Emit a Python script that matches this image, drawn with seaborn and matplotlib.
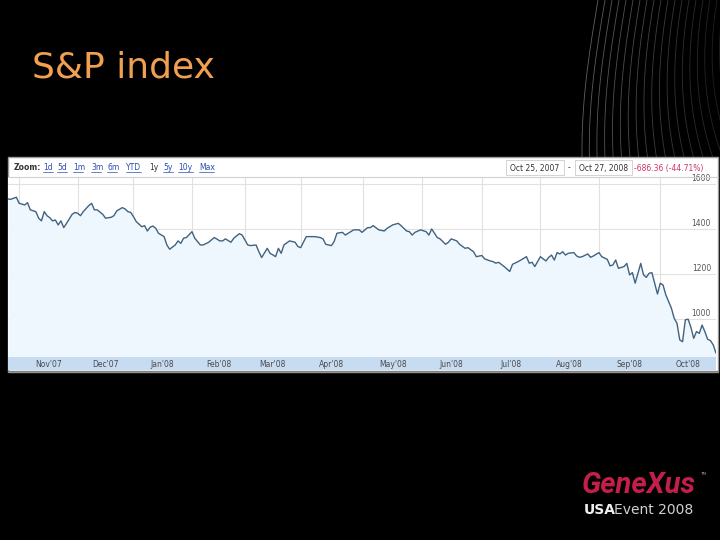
import numpy as np
import pandas as pd
import seaborn as sns
import matplotlib.pyplot as plt
from matplotlib.lines import Line2D
from matplotlib.patches import Rectangle

# S&P 500 closes, Oct 25 2007 - Oct 27 2008, x = trading day number
day = [0, 1, 3, 4, 6, 7, 8, 10, 11, 12, 13, 14, 15, 16, 17, 18, 19, 20, 21, 23,
       24, 25, 26, 27, 29, 30, 31, 32, 34, 35, 37, 38, 39, 41, 42, 43, 44, 45, 46, 48,
       49, 50, 51, 52, 53, 54, 56, 57, 58, 60, 61, 62, 63, 64,
       66, 67, 69, 70, 72, 74, 76, 77, 78, 80, 81, 83, 84, 86, 87, 89, 90, 91, 93, 94,
       95, 96, 97, 98, 99, 101, 103, 104, 105, 107, 108, 110, 112, 113, 114, 116, 117, 118, 120, 121,
       123, 124, 126, 127, 129,
       130, 131, 133, 135, 136, 138, 140, 141, 143, 144, 145, 146, 148, 150, 151, 152, 154, 155, 157, 158,
       159, 161, 162, 164, 165, 167, 168, 170, 171, 173, 174, 175, 176, 178, 180, 181, 183, 184, 186, 187,
       188, 189, 191, 192, 193,
       194, 195, 196, 197, 198, 199, 200, 201, 203, 204, 205, 206, 208, 209, 210, 212, 213, 215, 216, 217,
       218, 219, 221, 222, 223, 224, 225, 226, 227, 228, 229, 230, 231, 233, 234, 235, 236, 237, 238, 239,
       240, 241, 242, 243, 244, 245, 246, 247, 248, 249, 250, 251, 252, 253, 254]
close = [1533, 1532, 1541, 1514, 1507, 1517, 1485, 1477, 1448, 1436, 1477, 1459, 1450, 1436, 1440, 1418, 1436, 1406, 1425, 1465,
         1473, 1470, 1459, 1477, 1504, 1514, 1485, 1485, 1465, 1448, 1452, 1459, 1480, 1495, 1489, 1477, 1474, 1455, 1433, 1410,
         1415, 1391, 1408, 1413, 1403, 1381, 1366, 1329, 1310, 1329, 1347, 1336, 1359, 1362,
         1388, 1359, 1329, 1329, 1341, 1362, 1347, 1347, 1356, 1341, 1359, 1379, 1373, 1329, 1326, 1329, 1299, 1273, 1314, 1292,
         1285, 1277, 1314, 1292, 1329, 1347, 1341, 1322, 1317, 1366, 1366, 1366, 1362, 1356, 1332, 1326, 1344, 1381, 1385, 1373,
         1388, 1396, 1396, 1385, 1406,
         1406, 1415, 1396, 1391, 1403, 1418, 1425, 1415, 1391, 1388, 1373, 1385, 1396, 1388, 1373, 1400, 1362, 1356, 1332, 1341,
         1356, 1347, 1332, 1314, 1317, 1299, 1277, 1282, 1267, 1258, 1255, 1248, 1252, 1233, 1211, 1243, 1255, 1262, 1277, 1248,
         1252, 1233, 1277, 1267, 1258,
         1274, 1284, 1262, 1295, 1289, 1299, 1284, 1292, 1295, 1280, 1274, 1277, 1289, 1274, 1280, 1295, 1277, 1265, 1236, 1240,
         1262, 1225, 1233, 1247, 1196, 1206, 1159, 1203, 1247, 1196, 1185, 1203, 1206, 1111, 1159, 1151, 1107, 1077, 1048, 1003,
         981, 907, 899, 996, 999, 963, 914, 944, 936, 973, 944, 910, 904, 885, 848]

month_starts = [4, 25, 45, 66, 85, 105, 127.5, 148.6, 170, 191, 212, 234]
month_mid = [14.5, 35, 55.5, 75.5, 95, 116, 138, 159, 180.5, 201.5, 223, 244]
month_labels = ["Nov'07", "Dec'07", "Jan'08", "Feb'08", "Mar'08", "Apr'08",
                "May'08", "Jun'08", "Jul'08", "Aug'08", "Sep'08", "Oct'08"]
y_ticks = [1000, 1200, 1400, 1600]

zoom_links = ["1d", "5d", "1m", "3m", "6m", "YTD", "1y", "5y", "10y", "Max"]
zoom_x = [43, 57, 73, 91, 107, 126, 149, 163, 178, 199]

df = pd.DataFrame({"day": day, "close": close})

sns.set_style("white")
plt.rcParams['font.family'] = ['DejaVu Sans']

W, H = 720, 540
def fx(px):
    return px / W
def fy(py):
    return 1 - py / H

fig = plt.figure(figsize=(7.2, 5.4), dpi=100, facecolor='black')

# decorative arcs, top right
yy = np.linspace(0, 160, 80)
for k in range(20):
    x0 = 598 + k * 7
    xx = x0 - 16 * np.sin(np.pi * yy / 300) + (k ** 1.6) * 0.35 * (yy / 160) ** 2
    fig.add_artist(Line2D(fx(xx), fy(yy), color='#6a6a6a', lw=0.6,
                          alpha=max(0.25, 0.9 - k * 0.035), zorder=-3))

# panel
fig.add_artist(Rectangle((fx(8), fy(372)), fx(718) - fx(8), fy(157) - fy(372),
                         transform=fig.transFigure, facecolor='white', edgecolor='#9a9a9a',
                         lw=1, zorder=-2))

ax = fig.add_axes([fx(8), fy(357), fx(716) - fx(8), fy(177) - fy(357)])
ax.set_facecolor('white')
ax.fill_between(df["day"], df["close"], 800, color='#eef7fd', lw=0)
sns.lineplot(data=df, x="day", y="close", ax=ax, color='#41627f', lw=1)
ax.set_xlim(0, 254)
ax.set_ylim(831, 1631)
ax.set_yticks(y_ticks)
ax.set_yticklabels([])
ax.set_xticks(month_starts)
ax.set_xticklabels([])
ax.grid(True, color='#e1e1e1', lw=0.8)
ax.tick_params(axis='x', direction='in', length=4, color='#9a9a9a', width=0.8)
ax.tick_params(axis='y', length=0)
ax.set_xlabel("")
ax.set_ylabel("")
for s in ax.spines.values():
    s.set_visible(False)
for v in y_ticks:
    ax.text(0.993, v + 6, str(v), transform=ax.get_yaxis_transform(), ha='right', va='bottom',
            fontsize=5.5, color='#555555')

band = fig.add_axes([fx(8), fy(370), fx(716) - fx(8), fy(357) - fy(370)], sharex=ax)
band.set_facecolor('#c8dcf1')
band.set_yticks([])
band.tick_params(axis='x', length=0, labelbottom=False)
for s in band.spines.values():
    s.set_visible(False)
for m, lab in zip(month_mid, month_labels):
    band.text(m, 0.45, lab, ha='center', va='center', fontsize=5.5, color='#4a4a4a')
fig.add_artist(Line2D([fx(8), fx(718)], [fy(371), fy(371)], color='#7f7f7f', lw=1))
fig.add_artist(Line2D([fx(8), fx(718)], [fy(177), fy(177)], color='#cfcfcf', lw=0.8))

# header strip
fig.text(fx(14), fy(168), "Zoom:", fontsize=5.5, color='#333333', fontweight='bold', va='center')
for lab, x in zip(zoom_links, zoom_x):
    c = '#333333' if lab == "1y" else '#2a4fb0'
    fig.text(fx(x), fy(168), lab, fontsize=5.5, color=c, va='center')
    if lab != "1y":
        w = 4.2 * len(lab) + 2
        fig.add_artist(Line2D([fx(x), fx(x + w)], [fy(172), fy(172)], color=c, lw=0.5))

for x0, x1, txt in [(506, 564, "Oct 25, 2007"), (575, 632, "Oct 27, 2008")]:
    fig.add_artist(Rectangle((fx(x0), fy(175)), fx(x1) - fx(x0), fy(160) - fy(175),
                             transform=fig.transFigure, facecolor='white', edgecolor='#cccccc', lw=0.6))
    fig.text(fx((x0 + x1) / 2), fy(168), txt, fontsize=5.5, color='#333333', ha='center', va='center')
fig.text(fx(569), fy(168), "-", fontsize=5.5, color='#333333', ha='center', va='center')
fig.text(fx(634), fy(168), "-686.36 (-44.71%)", fontsize=5.5, color='#cc3366', va='center')

# slide title and logo
fig.text(fx(32), fy(68), "S&P index", color='#f0a050', fontsize=26, va='center')
fig.text(fx(582), fy(485), "GeneXus", color='#c41e4a', fontsize=21, fontweight='bold',
         style='italic', va='center', family=['Roboto', 'DejaVu Sans'])
fig.text(fx(700), fy(474), "TM", color='#aaaaaa', fontsize=3, va='center')
fig.text(fx(584), fy(510), "USA", color='#eeeeee', fontsize=10, fontweight='bold', va='center')
fig.text(fx(614), fy(510), "Event 2008", color='#d0d0d0', fontsize=10, va='center')

fig.savefig("out.png", dpi=100, facecolor='black')
